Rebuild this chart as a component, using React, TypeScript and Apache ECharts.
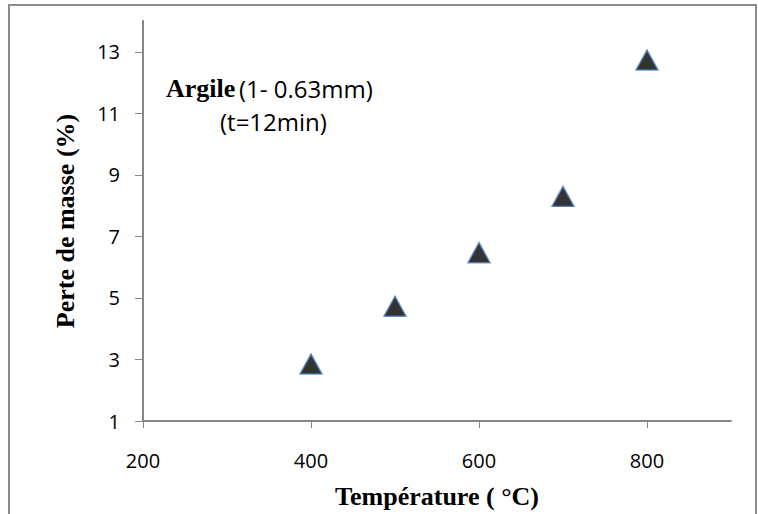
import React, { useEffect, useRef } from "react";
import * as echarts from "echarts";

const temperatures = [400, 500, 600, 700, 800];
const massLoss = [2.85, 4.73, 6.47, 8.3, 12.73];
const xTickValues = [200, 400, 600, 800];
const yTickValues = [1, 3, 5, 7, 9, 11, 13];

const xAxisTitle = "Température ( °C)";
const yAxisTitle = "Perte de masse (%)";
const noteBold = "Argile";
const noteLine1 = "(1- 0.63mm)";
const noteLine2 = "(t=12min)";

const SERIF = '"Liberation Serif", "Times New Roman", serif';
const SANS = '"Open Sans", "Noto Sans", sans-serif';

export default function App() {
  const ref = useRef<HTMLDivElement>(null);

  useEffect(() => {
    if (!ref.current) return;
    const chart = echarts.init(ref.current, null, { renderer: "svg" });
    const points = temperatures.map((t, i) => [t, massLoss[i]]);
    chart.setOption({
      animation: false,
      backgroundColor: "#ffffff",
      grid: { left: 143, top: 21, right: 27, bottom: 93, containLabel: false },
      xAxis: {
        type: "value",
        min: 200,
        max: 900,
        splitLine: { show: false },
        axisLine: { show: true, onZero: false, lineStyle: { color: "#868686", width: 2 } },
        axisTick: { show: true, length: 7, customValues: xTickValues, lineStyle: { color: "#868686", width: 1 } },
        axisLabel: {
          customValues: xTickValues,
          margin: 29,
          fontSize: 20,
          color: "#000",
          fontFamily: SANS,
        },
        name: xAxisTitle,
        nameLocation: "middle",
        nameGap: 62,
        nameTextStyle: { fontFamily: SERIF, fontWeight: "bold", fontSize: 26, color: "#000" },
      },
      yAxis: {
        type: "value",
        min: 1,
        max: 14,
        splitLine: { show: false },
        axisLine: { show: true, onZero: false, lineStyle: { color: "#868686", width: 2 } },
        axisTick: { show: true, length: 8, customValues: yTickValues, lineStyle: { color: "#868686", width: 1 } },
        axisLabel: {
          customValues: yTickValues,
          margin: 23,
          fontSize: 20,
          color: "#000",
          fontFamily: SANS,
        },
        name: yAxisTitle,
        nameLocation: "middle",
        nameGap: 65,
        nameTextStyle: { fontFamily: SERIF, fontWeight: "bold", fontSize: 26, color: "#000" },
      },
      series: [
        {
          type: "scatter",
          data: points,
          symbol: "triangle",
          symbolSize: [22, 20],
          itemStyle: {
            color: "#000000",
            borderColor: "#4F81BD",
            borderWidth: 1.5,
            decal: {
              symbol: "rect",
              symbolSize: 0.4,
              color: "#ffffff",
              dashArrayX: [[3, 4]],
              dashArrayY: [3, 4],
              rotation: 0,
            },
          },
          emphasis: { disabled: true },
        },
      ],
      graphic: [
        {
          type: "rect",
          shape: { x: 9, y: 5, width: 747, height: 530 },
          style: { fill: "none", stroke: "#8c8c8c", lineWidth: 2 },
          silent: true,
        },
        {
          type: "text",
          x: 166,
          y: 88,
          style: {
            text: noteBold,
            font: `bold 26px ${SERIF}`,
            fill: "#000",
            verticalAlign: "middle",
          },
        },
        {
          type: "text",
          x: 239,
          y: 88,
          style: {
            text: noteLine1,
            font: `24px ${SANS}`,
            fill: "#000",
            verticalAlign: "middle",
          },
        },
        {
          type: "text",
          x: 220,
          y: 121,
          style: {
            text: noteLine2,
            font: `24px ${SANS}`,
            fill: "#000",
            verticalAlign: "middle",
          },
        },
      ],
    });
    return () => chart.dispose();
  }, []);

  return (
    <div
      ref={ref}
      style={{ position: "fixed", left: 0, top: 0, width: 758, height: 514 }}
    />
  );
}
